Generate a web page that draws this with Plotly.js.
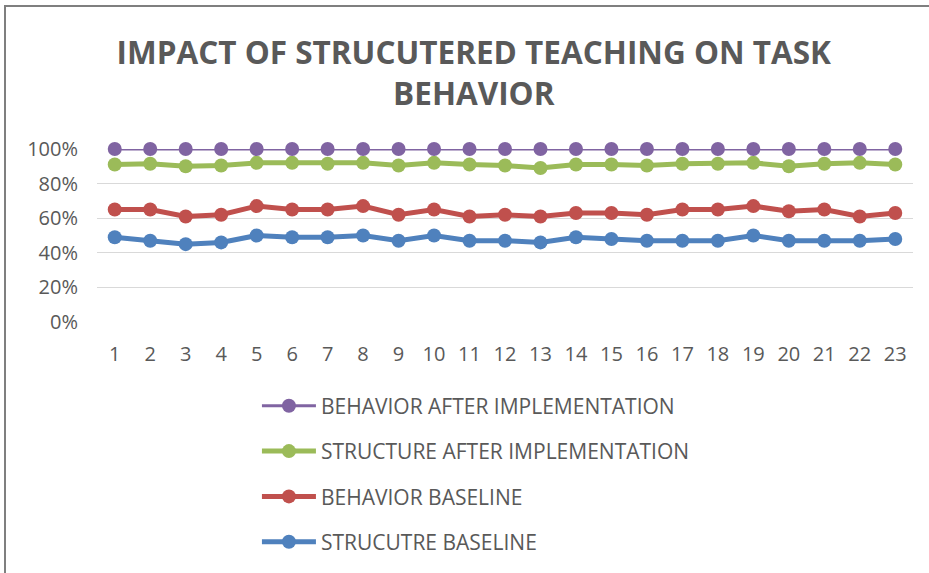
<!DOCTYPE html>
<html>
<head>
<meta charset="utf-8">
<script src="https://cdn.plot.ly/plotly-3.0.1.min.js"></script>
<style>
  html, body { margin: 0; padding: 0; background: #fff; }
  #wrap { position: relative; width: 929px; height: 573px; overflow: hidden; }
  #chart { position: absolute; left: 0; top: 0; width: 929px; height: 573px; }
  #frame { position: absolute; left: 4px; top: 5px; width: 940px; height: 600px;
           border-top: 2px solid #7f7f7f; border-left: 2px solid #7f7f7f; pointer-events: none; }
</style>
</head>
<body>
<div id="wrap">
  <div id="chart"></div>
  <div id="frame"></div>
</div>
<script>
const categories = ["1","2","3","4","5","6","7","8","9","10","11","12","13","14","15","16","17","18","19","20","21","22","23"];
const seriesNames = ["STRUCUTRE BASELINE", "BEHAVIOR BASELINE", "STRUCTURE AFTER IMPLEMENTATION", "BEHAVIOR AFTER IMPLEMENTATION"];
const structureBaseline = [0.49,0.47,0.45,0.46,0.50,0.49,0.49,0.50,0.47,0.50,0.47,0.47,0.46,0.49,0.48,0.47,0.47,0.47,0.50,0.47,0.47,0.47,0.48];
const behaviorBaseline  = [0.65,0.65,0.61,0.62,0.67,0.65,0.65,0.67,0.62,0.65,0.61,0.62,0.61,0.63,0.63,0.62,0.65,0.65,0.67,0.64,0.65,0.61,0.63];
const structureAfter    = [0.91,0.915,0.90,0.905,0.92,0.92,0.915,0.92,0.905,0.92,0.91,0.905,0.89,0.91,0.91,0.905,0.915,0.915,0.92,0.90,0.915,0.92,0.91];
const behaviorAfter     = [1,1,1,1,1,1,1,1,1,1,1,1,1,1,1,1,1,1,1,1,1,1,1];
const yTicks = [0, 0.2, 0.4, 0.6, 0.8, 1.0];
const yTickLabels = ["0%","20%","40%","60%","80%","100%"];

const colors = ["#4F81BD", "#C0504D", "#9BBB59", "#8064A2"];
const widths = [5, 5, 5, 3];
const ranks = [4, 3, 2, 1];
const allSeries = [structureBaseline, behaviorBaseline, structureAfter, behaviorAfter];

const traces = allSeries.map((vals, i) => ({
  x: categories,
  y: vals,
  name: seriesNames[i],
  type: "scatter",
  mode: "lines+markers",
  cliponaxis: false,
  line: { color: colors[i], width: widths[i] },
  marker: { color: colors[i], size: 14, symbol: "circle" },
  legendgroup: "g" + i,
  legendrank: ranks[i]
}));

const font = "Open Sans, Noto Sans, sans-serif";
const layout = {
  width: 929, height: 573,
  paper_bgcolor: "rgba(0,0,0,0)",
  plot_bgcolor: "#fff",
  margin: { l: 97, r: 16, t: 149, b: 250 },
  title: {
    text: "IMPACT OF STRUCUTERED TEACHING ON TASK<br>BEHAVIOR",
    font: { family: font, size: 31.5, color: "#595959", weight: "bold" },
    x: 0.51, xanchor: "center",
    y: 0.888, yanchor: "top"
  },
  showlegend: true,
  legend: {
    orientation: "v",
    traceorder: "grouped",
    tracegroupgap: 15,
    x: 0.196, xanchor: "left",
    y: -0.36, yanchor: "top",
    font: { family: font, size: 21, color: "#595959" },
    itemwidth: 54
  },
  xaxis: {
    type: "category",
    range: [-0.5, 22.5],
    tickfont: { family: font, size: 20, color: "#595959" },
    showgrid: false, zeroline: false, showline: false,
    ticks: "", ticklen: 0,
    ticklabelstandoff: 18
  },
  yaxis: {
    range: [0, 1],
    tickvals: yTicks, ticktext: yTickLabels,
    tickfont: { family: font, size: 20, color: "#595959" },
    showgrid: true, gridcolor: "#d9d9d9", gridwidth: 1,
    zeroline: false, showline: false,
    ticks: "", ticklen: 0,
    ticklabelstandoff: 18,
    fixedrange: true
  }
};

Plotly.newPlot("chart", traces, layout, { staticPlot: true, displayModeBar: false });
</script>
</body>
</html>
